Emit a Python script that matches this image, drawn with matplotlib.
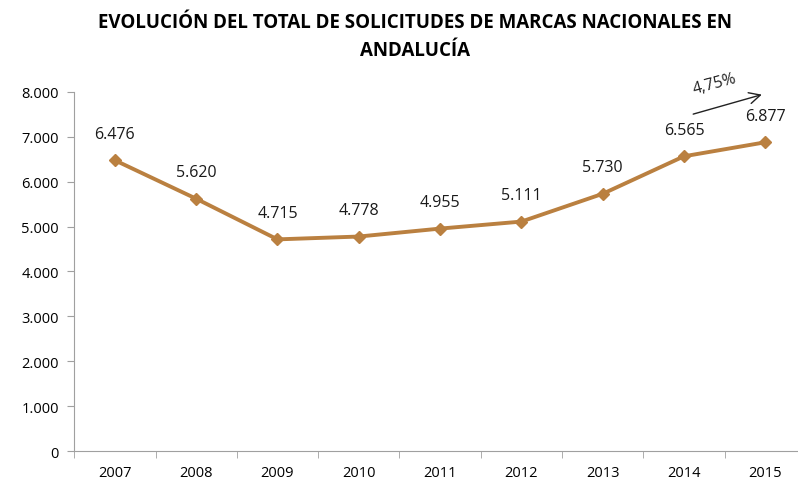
import numpy as np
import matplotlib.pyplot as plt
from matplotlib.ticker import FuncFormatter, FixedLocator

years = ['2007', '2008', '2009', '2010', '2011', '2012', '2013', '2014', '2015']
solicitudes = [6476, 5620, 4715, 4778, 4955, 5111, 5730, 6565, 6877]
crecimiento = '4,75%'

color = '#BA8040'
plt.rcParams['font.family'] = ['Open Sans', 'DejaVu Sans']

fig = plt.figure(figsize=(7.98, 4.81), dpi=100)
ax = fig.add_axes([0.093, 0.060, 0.917, 0.747])

x = np.arange(len(years))
ax.plot(x, solicitudes, color=color, lw=2.8, marker='D', ms=6, zorder=3)

def miles(v):
    return f'{int(v):,}'.replace(',', '.')

for xi, v in zip(x, solicitudes):
    ax.annotate(miles(v), (xi, v), xytext=(0, 19), textcoords='offset points',
                ha='center', va='center', fontsize=11.5, color='#1a1a1a')

ax.set_xlim(-0.5, len(years) - 0.5)
ax.set_ylim(0, 8000)
ax.set_yticks(np.arange(0, 8001, 1000))
ax.yaxis.set_major_formatter(FuncFormatter(lambda v, p: miles(v)))
ax.set_xticks(x)
ax.set_xticklabels(years)
ax.xaxis.set_minor_locator(FixedLocator(np.arange(-0.5, len(years), 1)))
ax.tick_params(axis='x', which='major', length=0, pad=10, labelsize=10.5)
ax.tick_params(axis='x', which='minor', length=5, color='#A0A0A0')
ax.tick_params(axis='y', length=5, color='#A0A0A0', labelsize=10.5, pad=6)

for s in ['top', 'right']:
    ax.spines[s].set_visible(False)
for s in ['left', 'bottom']:
    ax.spines[s].set_color('#A0A0A0')

# flecha de crecimiento 2014-2015
ax.annotate('', xy=(7.99, 7955), xytext=(7.08, 7487),
            arrowprops=dict(arrowstyle='->', color='#222222', lw=1,
                            mutation_scale=20), annotation_clip=False)
ax.text(7.38, 8190, crecimiento, rotation=15, ha='center', va='center',
        fontsize=11.5, color='#222222', clip_on=False)

fig.text(0.52, 0.952, 'EVOLUCIÓN DEL TOTAL DE SOLICITUDES DE MARCAS NACIONALES EN',
         ha='center', va='center', fontsize=13.5, fontweight='bold')
fig.text(0.52, 0.893, 'ANDALUCÍA', ha='center', va='center',
         fontsize=13.5, fontweight='bold')

fig.savefig('out.png', dpi=100)
